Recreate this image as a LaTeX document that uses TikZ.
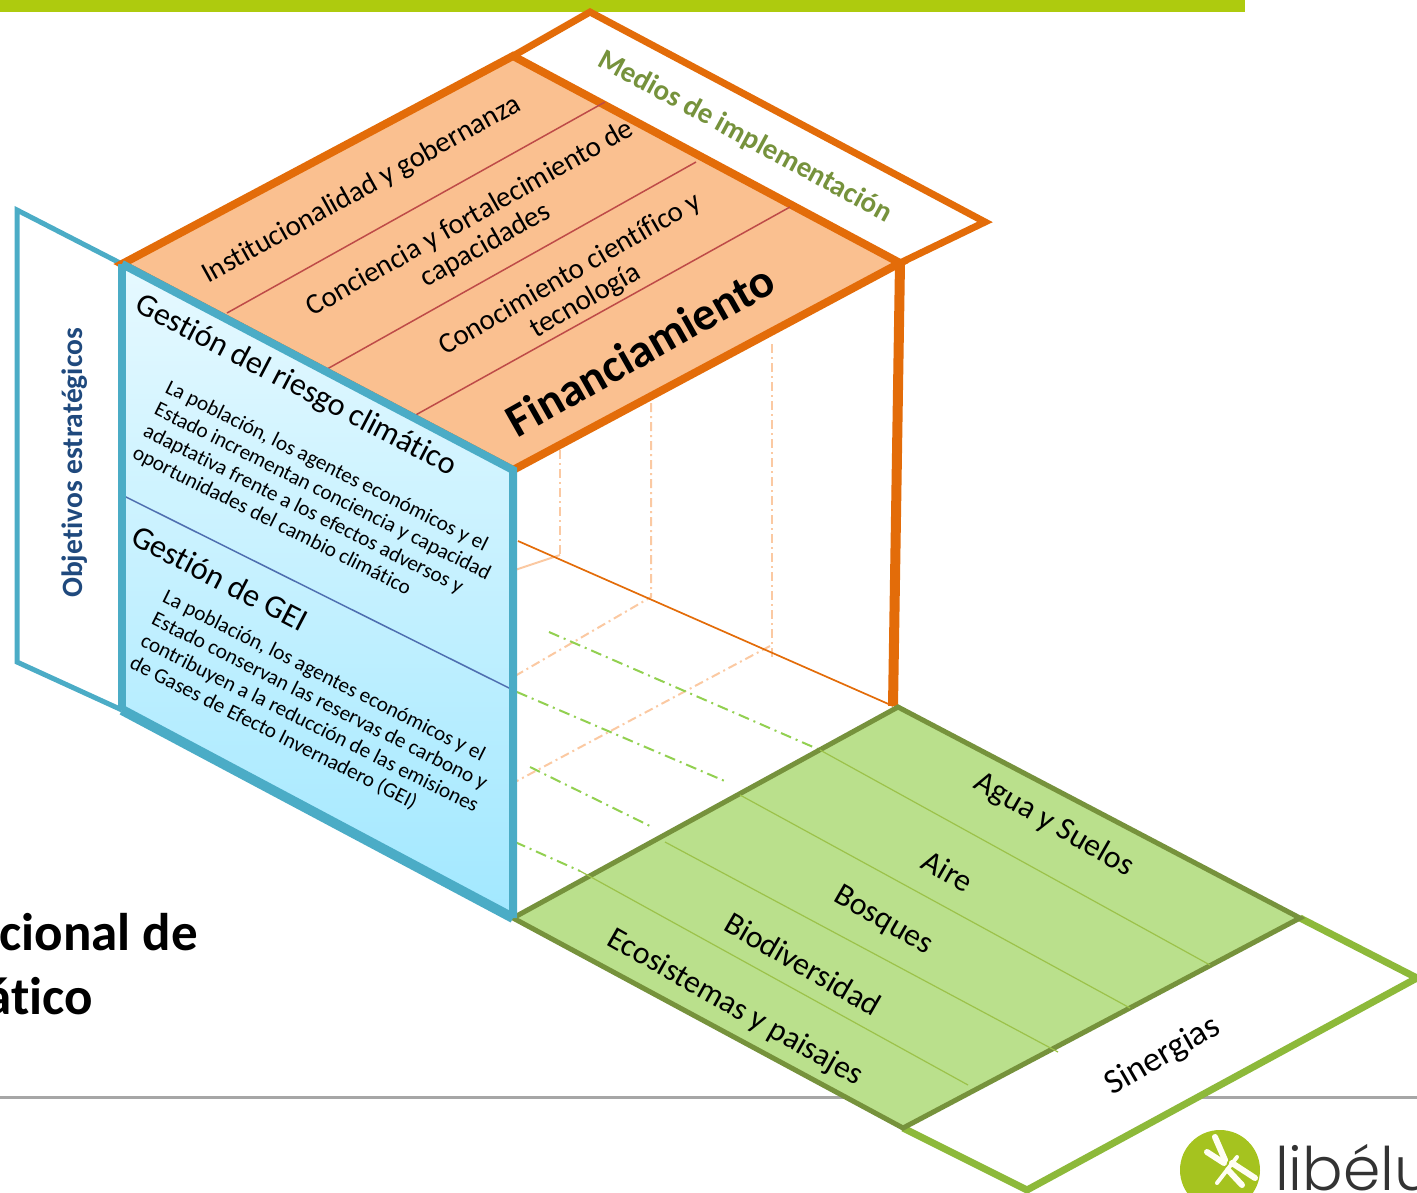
\documentclass[tikz,border=0pt]{standalone}
\usepackage{fontspec}
\setmainfont[Ligatures=NoCommon]{Carlito}
\newfontfamily\logofont{Poppins Light}
\definecolor{barGreen}{HTML}{AECB0E}
\definecolor{orangeE}{HTML}{E36C09}
\definecolor{orangeF}{HTML}{FAC090}
\definecolor{orangeD}{HTML}{FBC9A2}
\definecolor{redL}{HTML}{BE4B48}
\definecolor{blueE}{HTML}{4BACC6}
\definecolor{blueL}{HTML}{4F6FB0}
\definecolor{navyT}{HTML}{1F497D}
\definecolor{greenE}{HTML}{76923C}
\definecolor{greenF}{HTML}{BAE08C}
\definecolor{greenL}{HTML}{9CC24A}
\definecolor{greenS}{HTML}{8DB93A}
\definecolor{greenD}{HTML}{92D050}
\definecolor{greyL}{HTML}{A6A6A6}
\definecolor{logoG}{HTML}{A5C31F}
\definecolor{logoT}{HTML}{333333}
\definecolor{skyA}{HTML}{E6F9FF}
\definecolor{skyB}{HTML}{A2E8FF}
\tikzset{
  orangedash/.style={orangeD,line width=2pt,dash pattern=on 9pt off 4pt on 2pt off 4pt},
  greendash/.style={greenD,line width=2pt,dash pattern=on 11pt off 5pt on 2pt off 5pt},
  txt/.style={inner sep=0pt,align=center,text=black,font=\fontsize{#1}{\dimexpr#1pt*106/100\relax}\selectfont},
  para/.style={inner sep=0pt,align=left,text=black,rotate=-26.5,font=\fontsize{21.2}{24.5}\selectfont},
}
\begin{document}
\begin{tikzpicture}[x=1pt,y=-1pt,line join=miter]
\useasboundingbox (0,0) rectangle (1417,1192);
\clip (0,0) rectangle (1417,1192);
% corners
\coordinate (tl) at (122,264);
\coordinate (tb) at (513,56);
\coordinate (tr) at (900,263);
\coordinate (tf) at (513,470);
\coordinate (mb) at (590,12);
\coordinate (mr) at (985,222);
\coordinate (lb) at (122,710);
\coordinate (lf) at (513,918);
\coordinate (fb) at (17,210);
\coordinate (fa) at (17,662);
\coordinate (gb) at (898,707);
\coordinate (gr) at (1300,918);
\coordinate (gf) at (903,1128);
\coordinate (sr) at (1417,978);
\coordinate (sb) at (1027,1190);
\coordinate (vb) at (893,706);
% background
\fill[barGreen] (0,0) rectangle (1245,12);
\draw[greyL,line width=3pt] (0,1097) coordinate (g1) -- (1417,1097) coordinate (g2);
% flaps
\draw[orangeE,line width=7pt,fill=white] (tb) -- (mb) -- (mr) -- (tr);
\draw[blueE,line width=5pt] (tl) -- (fb) -- (fa) -- (lb);
\draw[greenS,line width=7pt,fill=white] (gr) -- (sr) -- (sb) -- (gf);
% guide lines
\coordinate (oa1) at (560,450); \coordinate (oa2) at (560,555); \coordinate (oa3) at (515,570);
\coordinate (ob1) at (651,403); \coordinate (ob2) at (651,597); \coordinate (ob3) at (515,676);
\coordinate (oc1) at (772,344); \coordinate (oc2) at (772,658); \coordinate (oc3) at (770,646); \coordinate (oc4) at (515,782);
\draw[orangedash] (oa1) -- (oa2);
\draw[orangeD,line width=2pt] (oa2) -- (oa3);
\draw[orangedash] (ob1) -- (ob2) -- (ob3);
\draw[orangedash] (oc1) -- (oc2);
\draw[orangedash] (oc3) -- (oc4);
\coordinate (ga1) at (549,632); \coordinate (ga2) at (820,750); \coordinate (ga3) at (1210,965);
\coordinate (gb1) at (517,692); \coordinate (gb2) at (727,782);
\coordinate (gc1) at (530,767); \coordinate (gc2) at (652,827);
\coordinate (gd1) at (515,842); \coordinate (gd2) at (580,871); \coordinate (gd3) at (968,1085);
\coordinate (he) at (1130,1008); \coordinate (hs) at (740,795);
\coordinate (ie) at (1058,1052); \coordinate (is) at (665,842);
\draw[greendash] (ga1) -- (ga2);
\draw[greendash] (gb1) -- (gb2);
\draw[greendash] (gc1) -- (gc2);
\draw[greendash] (gd1) -- (gd2);
\coordinate (ol) at (518,541);
\draw[orangeE,line width=1.7pt] (ol) -- (vb);
% right post
\draw[orangeE,line width=10pt] (tr) -- (vb);
% green floor
\draw[greenE,line width=5pt,fill=greenF] (lf) -- (gb) -- (gr) -- (gf) -- cycle;
\draw[greenL,line width=1.2pt] (ga2) -- (ga3);
\draw[greenL,line width=1.2pt] (hs) -- (he);
\draw[greenL,line width=1.2pt] (is) -- (ie);
\draw[greenL,line width=1.2pt] (gd2) -- (gd3);
% top face
\draw[orangeE,line width=8pt,fill=orangeF] (tl) -- (tb) -- (tr) -- (tf) -- cycle;
\coordinate (d1a) at (227,313); \coordinate (d1b) at (605,102);
\coordinate (d2a) at (320,373); \coordinate (d2b) at (696,162);
\coordinate (d3a) at (412,417); \coordinate (d3b) at (790,207);
\draw[redL,line width=1.5pt] (d1a) -- (d1b);
\draw[redL,line width=1.5pt] (d2a) -- (d2b);
\draw[redL,line width=1.5pt] (d3a) -- (d3b);
% left face
\shade[top color=skyA,bottom color=skyB] (tl) -- (tf) -- (lf) -- (lb) -- cycle;
\coordinate (bl1) at (122,495); \coordinate (bl2) at (513,690);
\draw[blueL,line width=1.5pt] (bl1) -- (bl2);
\draw[blueE,line width=8pt,line cap=butt] (tl) -- (tf) -- (lf);
\draw[blueE,line width=10pt] (lf) -- (lb);
\draw[blueE,line width=8pt] (lb) -- (tl);
% text: top
\node[txt=29,rotate=29] (t1) at (362,190) {Institucionalidad y gobernanza};
\node[txt=29,rotate=29.5] (t2) at (478,232) {Conciencia y fortalecimiento de\\capacidades};
\node[txt=29,rotate=30] (t3) at (578,288) {Conocimiento científico y\\tecnología};
\node[inner sep=0pt,rotate=29.5,text=black,font=\fontsize{47}{49}\selectfont\bfseries] (t4) at (640,350) {Financiamiento};
\node[inner sep=0pt,rotate=-28.5,text=greenE,font=\fontsize{29}{31}\selectfont\bfseries] (t5) at (745,137) {Medios de implementación};
% text: left
\node[inner sep=0pt,rotate=90,text=navyT,font=\fontsize{29.5}{31}\selectfont\bfseries] (t6) at (75,463) {Objetivos estratégicos};
\node[txt=32,rotate=-27.5] (t7) at (296,386) {Gestión del riesgo climático};
\node[para] (t8) at (317,503) {La población, los agentes económicos y el\\Estado incrementan conciencia y capacidad\\adaptativa frente a los efectos adversos y\\oportunidades del cambio climático};
\node[txt=32.3,rotate=-27.5] (t9) at (220,578) {Gestión de GEI};
\node[para] (t10) at (315,713) {La población, los agentes económicos y el\\Estado conservan las reservas de carbono y\\contribuyen a la reducción de las emisiones\\de Gases de Efecto Invernadero (GEI)};
% text: floor
\node[txt=31.8,rotate=-30] (t11) at (1054,825) {Agua y Suelos};
\node[txt=31.8,rotate=-30] (t12) at (948,871) {Aire};
\node[txt=31.8,rotate=-30] (t13) at (883,921) {Bosques};
\node[txt=31.8,rotate=-30] (t14) at (803,964) {Biodiversidad};
\node[txt=31.8,rotate=-29.5] (t15) at (735,1008) {Ecosistemas y paisajes};
\node[txt=35,rotate=30] (t16) at (1163,1056) {Sinergias};
% bottom-left title fragment
\node[inner sep=0pt,anchor=base east,font=\fontsize{53}{55}\selectfont\bfseries,text=black] (t17) at (198,950) {cional de};
\node[inner sep=0pt,anchor=base east,font=\fontsize{53}{55}\selectfont\bfseries,text=black] (t18) at (93,1014) {ático};
% logo
\fill[logoG] (1220,1170) circle (40);
\begin{scope}[white!95!yellow,line cap=round]
\draw[line width=4pt] (1237,1157) -- (1217,1183);
\draw[line width=6pt] (1215,1137) -- (1225,1160);
\draw[line width=6pt] (1207,1152) -- (1224,1163);
\draw[line width=6pt] (1232,1163) -- (1255,1178);
\draw[line width=6pt] (1228,1170) -- (1242,1185);
\end{scope}
\node[inner sep=0pt,anchor=base west,font=\logofont\fontsize{60}{62}\selectfont,text=logoT] (t19) at (1275,1190) {libélu};
\end{tikzpicture}
\end{document}
